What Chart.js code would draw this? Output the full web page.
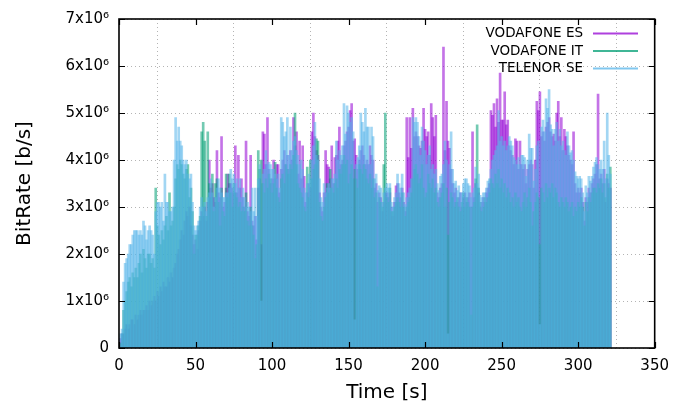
<!DOCTYPE html>
<html>
<head>
<meta charset="utf-8">
<script src="https://cdn.jsdelivr.net/npm/chart.js@4.4.1/dist/chart.umd.min.js"></script>
<style>
  html, body { margin: 0; padding: 0; background: #fff; }
  #wrap { width: 678px; height: 409px; }
</style>
</head>
<body>
<div id="wrap"><canvas id="chart" width="678" height="409"></canvas></div>
<script>
'use strict';

// ── DATA ─────────────────────────────────────────────────────
// bit rate per second, in units of 10^6 b/s

const T_START = 1;   // first sample, seconds

const ES_RATE = [
  0.2, 0.3, 0.3, 0.4, 0.5, 0.4, 0.5, 0.6, 0.6, 0.5,
  0.7, 0.6, 0.7, 0.8, 0.7, 0.8, 0.8, 0.9, 0.8, 1.0,
  0.9, 1.0, 1.1, 1.0, 1.2, 1.1, 1.3, 1.2, 1.4, 1.3,
  1.3, 1.5, 1.4, 1.6, 1.5, 1.7, 1.8, 2.0, 2.1, 2.3,
  2.5, 2.4, 2.7, 2.9, 2.8, 3.0, 2.6, 2.4, 2.2, 2.3,
  2.1, 2.5, 2.7, 2.9, 2.8, 3.0, 2.7, 3.1, 4.0, 3.4,
  3.5, 3.2, 3.1, 4.2, 3.3, 3.2, 4.5, 3.0, 3.1, 3.4,
  3.7, 3.5, 3.5, 3.4, 3.3, 4.3, 3.3, 4.1, 3.4, 3.6,
  3.2, 3.0, 4.4, 2.9, 2.8, 4.1, 2.7, 2.6, 2.8, 2.3,
  3.4, 3.6, 2.2, 4.6, 4.55, 3.9, 4.9, 3.8, 3.5, 3.6,
  4.0, 3.6, 3.9, 3.9, 3.3, 3.8, 4.0, 4.2, 3.9, 4.1,
  3.8, 4.2, 4.0, 4.9, 4.3, 4.6, 3.7, 4.4, 3.6, 4.3,
  3.65, 3.1, 3.3, 3.5, 3.4, 4.6, 5.0, 4.5, 4.2, 4.1,
  3.3, 3.0, 2.9, 3.3, 4.2, 3.9, 3.85, 3.6, 4.3, 3.5,
  4.05, 4.1, 4.4, 4.7, 3.9, 4.0, 4.3, 4.4, 4.6, 4.7,
  5.05, 5.2, 4.4, 4.45, 4.1, 3.8, 4.0, 4.2, 4.3, 4.1,
  3.9, 4.0, 3.9, 4.3, 4.1, 4.0, 3.4, 3.5, 3.1, 3.3,
  3.2, 2.9, 3.1, 3.3, 3.3, 3.2, 3.3, 3.0, 2.8, 3.1,
  3.45, 3.5, 3.3, 3.2, 3.4, 3.1, 2.9, 4.9, 4.05, 4.9,
  4.25, 5.1, 4.5, 4.6, 4.5, 4.3, 4.25, 4.4, 5.1, 4.65,
  4.5, 4.6, 4.1, 5.2, 4.9, 4.5, 4.95, 3.3, 3.2, 3.4,
  3.5, 6.4, 4.2, 5.25, 4.4, 4.25, 3.8, 3.5, 3.3, 3.4,
  3.1, 3.2, 3.3, 3.0, 3.2, 3.3, 3.1, 3.2, 3.3, 3.0,
  4.6, 3.2, 3.5, 3.4, 3.3, 3.0, 3.1, 3.2, 3.1, 3.3,
  3.4, 3.5, 5.05, 4.95, 5.2, 4.7, 5.3, 4.8, 5.85, 4.85,
  4.85, 5.45, 4.75, 4.85, 4.3, 4.2, 4.1, 3.9, 4.45, 4.4,
  3.8, 4.4, 3.9, 3.8, 3.9, 3.5, 3.8, 3.9, 4.0, 3.9,
  3.4, 4.0, 5.25, 5.05, 5.45, 4.5, 4.6, 4.4, 4.7, 4.8,
  4.9, 4.6, 4.5, 4.55, 4.4, 5.0, 5.25, 4.5, 4.9, 4.2,
  4.65, 4.5, 4.3, 4.1, 4.0, 3.9, 4.6, 3.5, 3.3, 3.4,
  3.3, 3.4, 3.1, 2.7, 3.2, 3.1, 3.4, 3.3, 3.5, 3.6,
  3.7, 3.9, 5.4, 3.6, 3.7, 3.5, 3.8, 3.1, 3.6, 3.5, 3.4
];

const IT_RATE = [
  0.1, 0.3, 0.8, 1.0, 1.2, 1.4, 1.5, 1.3, 1.6, 1.5,
  1.7, 1.5, 1.8, 2.0, 1.6, 2.1, 1.9, 1.7, 2.0, 2.0,
  1.8, 1.9, 1.7, 3.4, 2.6, 2.4, 2.2, 2.5, 2.3, 2.6,
  2.8, 2.5, 3.3, 2.6, 2.7, 3.0, 3.6, 3.9, 3.8, 4.0,
  3.9, 3.7, 3.6, 3.8, 3.9, 3.2, 3.4, 2.9, 2.0, 2.4,
  2.4, 2.6, 2.8, 4.6, 4.8, 4.4, 2.8, 4.6, 3.5, 3.2,
  3.7, 2.9, 3.5, 3.6, 3.1, 2.6, 3.4, 2.9, 2.8, 3.7,
  3.2, 3.7, 3.3, 3.0, 3.5, 3.3, 3.2, 3.0, 3.1, 2.9,
  3.0, 2.9, 3.3, 2.7, 2.6, 3.0, 2.6, 2.4, 1.9, 2.2,
  4.2, 3.8, 4.0, 3.5, 3.3, 3.6, 3.4, 3.7, 3.6, 3.3,
  3.5, 3.95, 3.4, 3.2, 3.1, 3.6, 3.7, 3.5, 3.9, 3.8,
  3.7, 3.9, 3.8, 4.1, 5.0, 3.9, 3.5, 3.4, 3.3, 3.2,
  3.0, 2.9, 3.85, 3.2, 4.0, 3.6, 3.8, 3.9, 4.45, 4.4,
  3.1, 2.8, 2.7, 3.0, 3.2, 3.5, 3.3, 3.8, 3.4, 3.3,
  3.5, 3.6, 3.4, 3.8, 3.7, 3.9, 4.1, 3.9, 4.0, 3.5,
  3.7, 3.9, 3.6, 3.8, 3.6, 3.4, 3.9, 3.8, 3.7, 3.9,
  3.8, 3.6, 3.5, 3.7, 3.4, 3.6, 3.2, 3.3, 1.3, 3.2,
  3.1, 3.0, 3.9, 5.0, 3.2, 3.1, 3.4, 2.9, 2.9, 3.0,
  3.1, 3.2, 3.1, 3.0, 3.3, 3.0, 2.8, 3.0, 3.1, 3.2,
  3.3, 3.6, 3.8, 3.9, 3.7, 3.5, 3.6, 3.9, 3.4, 3.2,
  3.3, 3.7, 3.5, 3.4, 3.6, 3.3, 3.4, 3.1, 3.0, 3.2,
  3.3, 3.5, 3.0, 3.4, 2.4, 3.1, 3.3, 3.2, 3.0, 3.1,
  3.2, 3.0, 2.9, 3.1, 3.3, 3.0, 3.2, 3.1, 3.0, 0.7,
  3.0, 3.1, 3.6, 4.75, 3.4, 3.1, 2.9, 3.0, 3.2, 3.1,
  3.2, 3.3, 3.6, 3.5, 3.4, 3.7, 3.5, 3.8, 3.4, 3.6,
  3.3, 3.5, 3.2, 3.4, 3.3, 3.1, 3.2, 3.0, 3.3, 3.1,
  3.2, 3.0, 2.9, 3.1, 3.3, 3.0, 3.2, 3.4, 3.1, 2.6,
  2.9, 3.1, 3.3, 3.2, 2.2, 3.4, 3.3, 3.1, 3.5, 3.2,
  3.4, 3.3, 3.5, 3.2, 3.4, 3.3, 3.1, 3.0, 3.2, 3.1,
  3.0, 3.2, 3.1, 2.9, 3.0, 3.1, 2.8, 3.0, 2.9, 3.1,
  3.0, 3.2, 3.0, 2.6, 3.1, 2.9, 3.2, 3.1, 3.3, 3.4,
  3.4, 3.3, 3.5, 3.4, 3.6, 3.3, 3.5, 3.2, 3.7, 3.4, 3.85
];

const SE_RATE = [
  0.3, 0.4, 1.4, 1.8, 1.9, 2.0, 2.2, 2.2, 2.4, 2.5,
  2.5, 2.5, 2.4, 2.5, 2.4, 2.7, 2.6, 2.3, 2.5, 2.6,
  2.5, 2.4, 2.0, 2.9, 3.1, 3.1, 3.0, 3.1, 2.7, 3.7,
  3.1, 3.1, 2.9, 2.9, 3.0, 4.0, 4.9, 4.4, 4.7, 4.4,
  4.3, 4.0, 3.9, 4.0, 3.7, 3.6, 3.7, 3.1, 2.6, 2.5,
  2.6, 2.7, 3.0, 3.2, 3.0, 3.1, 2.9, 3.2, 3.3, 3.6,
  3.3, 3.0, 3.2, 3.4, 3.6, 3.4, 3.3, 3.2, 3.2, 3.3,
  3.3, 3.4, 3.8, 3.6, 3.7, 3.5, 3.6, 3.4, 3.6, 3.2,
  3.4, 3.2, 3.0, 3.1, 3.0, 2.9, 3.4, 2.9, 3.4, 2.8,
  3.6, 3.9, 1.0, 3.7, 3.8, 4.2, 3.9, 3.95, 3.9, 3.8,
  3.8, 3.7, 3.6, 3.7, 3.4, 4.9, 4.8, 4.5, 4.6, 4.9,
  4.1, 4.7, 4.2, 4.4, 4.5, 4.2, 4.1, 3.9, 4.0, 3.8,
  3.4, 3.3, 3.5, 3.7, 3.6, 4.0, 4.3, 4.8, 4.1, 4.0,
  3.6, 3.2, 3.1, 3.5, 3.3, 3.4, 3.5, 3.4, 3.6, 3.6,
  3.7, 4.4, 4.0, 4.2, 4.1, 4.3, 5.2, 4.55, 5.15, 5.0,
  4.8, 4.9, 4.6, 0.6, 3.9, 4.05, 4.3, 5.0, 4.8, 4.6,
  5.1, 4.7, 4.7, 3.9, 4.7, 4.5, 3.6, 3.7, 3.35, 3.45,
  3.4, 3.1, 3.3, 3.4, 3.5, 3.4, 3.5, 3.1, 3.0, 3.2,
  3.3, 3.7, 3.5, 3.4, 3.7, 3.3, 3.05, 3.2, 3.3, 3.4,
  3.6, 4.9, 4.8, 4.9, 4.8, 4.5, 4.1, 4.7, 4.4, 4.2,
  3.9, 4.1, 4.3, 3.8, 3.9, 3.7, 3.8, 3.5, 3.35, 3.65,
  3.7, 3.9, 4.4, 4.0, 0.3, 3.9, 4.6, 3.8, 3.5, 3.55,
  3.35, 3.45, 3.3, 3.3, 3.5, 3.6, 3.6, 3.5, 3.45, 3.2,
  3.3, 3.4, 3.85, 3.5, 3.7, 3.25, 3.2, 3.3, 3.3, 3.4,
  3.55, 3.6, 3.8, 4.0, 4.1, 4.2, 4.3, 5.05, 4.4, 4.5,
  4.3, 4.4, 4.2, 4.3, 4.5, 4.4, 4.3, 4.05, 4.0, 3.9,
  4.05, 3.9, 4.1, 4.1, 4.05, 3.65, 4.0, 4.55, 4.25, 4.25,
  3.55, 3.8, 4.3, 4.4, 0.5, 4.7, 4.85, 4.6, 5.3, 5.1,
  5.5, 4.75, 4.65, 4.3, 4.65, 4.8, 4.4, 4.65, 4.3, 4.4,
  4.2, 4.1, 4.6, 4.3, 4.15, 4.2, 4.0, 3.75, 3.65, 3.6,
  3.65, 3.6, 3.3, 2.9, 3.45, 3.3, 3.65, 3.55, 3.65, 3.85,
  3.95, 4.05, 3.9, 3.8, 4.0, 3.8, 4.4, 3.6, 5.0, 4.1, 3.7
];

const SERIES_LABELS = ['VODAFONE ES', 'VODAFONE IT', 'TELENOR SE'];
const X_TICKS = [0, 50, 100, 150, 200, 250, 300, 350];
const Y_TICKS = [0, 1, 2, 3, 4, 5, 6, 7];

// ── STYLE ────────────────────────────────────────────────────

const FONT = "'DejaVu Sans', sans-serif";
const RGB = ['148,0,211', '0,158,115', '86,180,233'];
const ALPHA = 0.55;

const TIME = ES_RATE.map((_, i) => T_START + i);
const toPoints = arr => arr.map((v, i) => ({ x: TIME[i], y: v }));

// ── PLUGIN: gnuplot style frame, inward ticks, key ───────────

const framePlugin = {
  id: 'frame',
  afterDatasetsDraw(chart) {
    const { ctx, chartArea: a, scales: { x, y } } = chart;
    ctx.save();

    ctx.strokeStyle = '#000';
    ctx.lineWidth = 1.2;
    ctx.beginPath();
    X_TICKS.forEach(v => {
      const px = Math.round(x.getPixelForValue(v)) + 0.5;
      ctx.moveTo(px, a.bottom); ctx.lineTo(px, a.bottom - 6);
      ctx.moveTo(px, a.top);    ctx.lineTo(px, a.top + 6);
    });
    Y_TICKS.forEach(v => {
      const py = Math.round(y.getPixelForValue(v)) + 0.5;
      ctx.moveTo(a.left, py);  ctx.lineTo(a.left + 6, py);
      ctx.moveTo(a.right, py); ctx.lineTo(a.right - 6, py);
    });
    ctx.stroke();

    ctx.lineWidth = 1.6;
    ctx.strokeRect(a.left, a.top, a.right - a.left, a.bottom - a.top);

    // key
    ctx.font = '13.5px ' + FONT;
    ctx.textAlign = 'right';
    ctx.textBaseline = 'middle';
    SERIES_LABELS.forEach((label, i) => {
      const ky = 33.5 + i * 17.5;
      ctx.fillStyle = '#000';
      ctx.fillText(label, 583, ky);
      ctx.strokeStyle = `rgba(${RGB[i]},0.75)`;
      ctx.lineWidth = 2.2;
      ctx.beginPath();
      ctx.moveTo(593, ky); ctx.lineTo(638, ky);
      ctx.stroke();
    });

    ctx.restore();
  }
};

// ── CHART ────────────────────────────────────────────────────

const datasets = [ES_RATE, IT_RATE, SE_RATE].map((arr, i) => ({
  label: SERIES_LABELS[i],
  data: toPoints(arr),
  backgroundColor: `rgba(${RGB[i]},${ALPHA})`,
  borderWidth: 0,
  barThickness: 2.0,
  grouped: false,
  order: 3 - i
}));

new Chart(document.getElementById('chart'), {
  type: 'bar',
  data: { datasets },
  options: {
    responsive: false,
    animation: false,
    devicePixelRatio: 1,
    layout: { padding: { left: 0, top: 18, right: 21, bottom: 0 } },
    plugins: {
      legend: { display: false },
      tooltip: { enabled: false }
    },
    scales: {
      x: {
        type: 'linear',
        min: 0, max: 350,
        offset: false,
        afterBuildTicks: s => { s.ticks = X_TICKS.map(v => ({ value: v })); },
        afterFit: s => { s.height = 61; },
        grid: { color: '#b4b4b4', lineWidth: 1, drawTicks: false },
        border: { display: false, dash: [1, 3] },
        ticks: { color: '#000', padding: 9, font: { family: FONT, size: 15 } },
        title: {
          display: true, text: 'Time [s]', color: '#000',
          font: { family: FONT, size: 20 }, padding: { top: 0, bottom: 4 }
        }
      },
      y: {
        min: 0, max: 7,
        afterBuildTicks: s => { s.ticks = Y_TICKS.map(v => ({ value: v })); },
        afterFit: s => { s.width = 119; },
        grid: { color: '#b4b4b4', lineWidth: 1, drawTicks: false },
        border: { display: false, dash: [1, 3] },
        ticks: {
          color: '#000', padding: 10, font: { family: FONT, size: 15 },
          callback: v => v === 0 ? '0' : v + 'x10\u2076'
        },
        title: {
          display: true, text: 'BitRate [b/s]', color: '#000',
          font: { family: FONT, size: 20 }, padding: { top: 13, bottom: 0 }
        }
      }
    }
  },
  plugins: [framePlugin]
});
</script>
</body>
</html>
